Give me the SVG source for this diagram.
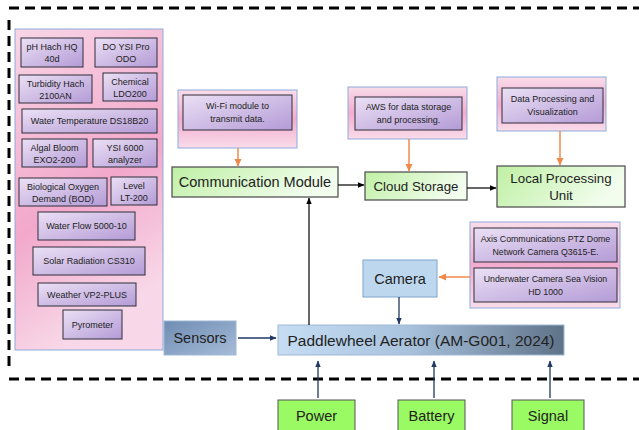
<svg xmlns="http://www.w3.org/2000/svg" width="639" height="430" viewBox="0 0 639 430">
<defs>
<linearGradient id="pink" x1="0" y1="0" x2="0" y2="1">
<stop offset="0" stop-color="#f9dcea"/><stop offset="0.5" stop-color="#f3acce"/><stop offset="1" stop-color="#f9dcea"/>
</linearGradient>
<linearGradient id="pinkPanel" x1="0" y1="0" x2="0.3" y2="1">
<stop offset="0" stop-color="#f8d6e6"/><stop offset="0.6" stop-color="#f2a8cb"/><stop offset="1" stop-color="#f8d8e8"/>
</linearGradient>
<linearGradient id="purple" x1="0" y1="0" x2="1" y2="1">
<stop offset="0" stop-color="#ebe0f5"/><stop offset="1" stop-color="#b49bd6"/>
</linearGradient>
<linearGradient id="green" x1="0" y1="0" x2="1" y2="0.3">
<stop offset="0" stop-color="#bff0a4"/><stop offset="1" stop-color="#f2fdee"/>
</linearGradient>
<linearGradient id="steel" x1="0" y1="0" x2="1" y2="1">
<stop offset="0" stop-color="#6f8cb3"/><stop offset="1" stop-color="#a6bcd8"/>
</linearGradient>
<linearGradient id="paddle" x1="0" y1="0" x2="1" y2="0">
<stop offset="0" stop-color="#c6ddf3"/><stop offset="0.45" stop-color="#a9c3de"/><stop offset="1" stop-color="#5f7388"/>
</linearGradient>
<marker id="ab" markerWidth="7" markerHeight="7" refX="6" refY="3.5" orient="auto" markerUnits="userSpaceOnUse">
<path d="M0,0.8 L6.5,3.5 L0,6.2 Z" fill="#000"/>
</marker>
<marker id="an" markerWidth="7" markerHeight="7" refX="6" refY="3.5" orient="auto" markerUnits="userSpaceOnUse">
<path d="M0,0.8 L6.5,3.5 L0,6.2 Z" fill="#1f3864"/>
</marker>
<marker id="ao" markerWidth="8" markerHeight="8" refX="7" refY="4" orient="auto" markerUnits="userSpaceOnUse">
<path d="M0,0.5 L7.5,4 L0,7.5 Z" fill="#f08a4b"/>
</marker>
</defs>
<style>
text{font-family:"Liberation Sans",Arial,sans-serif;fill:#222;text-anchor:middle}
.s{font-size:9px}
.t{font-size:9px}
.c{font-size:8.8px}
.b{font-size:14.5px}
.m{font-size:13.3px}
.p{font-size:15.5px}
.panel{fill:url(#pinkPanel);stroke:#8eaadb;stroke-width:1}
.outer{fill:url(#pink);stroke:#8eaadb;stroke-width:1}
.pur{fill:url(#purple);stroke:#2e2e3a;stroke-width:1}
.grn{fill:url(#green);stroke:#555;stroke-width:1.3}
.bg{fill:#99fa63;stroke:#555;stroke-width:1}
.blk{stroke:#000;stroke-width:1.2;fill:none}
.nv{stroke:#1f3864;stroke-width:1.3;fill:none}
.or{stroke:#f08a4b;stroke-width:1.5;fill:none}
.dash{stroke:#000;stroke-width:3;fill:none;stroke-dasharray:10 6}
</style>
<g id="boundary">
<path class="dash" d="M9,8 L639,8"/>
<path class="dash" d="M9,20 L9,372"/>
<path class="dash" d="M9,379 L639,379"/>
</g>
<g id="sensor-panel">
<rect class="panel" x="15" y="29" width="148" height="321"/>
<g id="s-ph"><rect class="pur" x="21" y="38" width="62" height="29"/><text class="s" x="52" y="50">pH Hach HQ</text><text class="s" x="52" y="62">40d</text></g>
<g id="s-do"><rect class="pur" x="95" y="38" width="62" height="29"/><text class="s" x="126" y="50">DO YSI Pro</text><text class="s" x="126" y="62">ODO</text></g>
<g id="s-turb"><rect class="pur" x="19" y="75" width="73" height="28"/><text class="s" x="55.5" y="87">Turbidity Hach</text><text class="s" x="55.5" y="99">2100AN</text></g>
<g id="s-chem"><rect class="pur" x="103" y="73" width="54" height="28"/><text class="s" x="130" y="85">Chemical</text><text class="s" x="130" y="97">LDO200</text></g>
<g id="s-temp"><rect class="pur" x="22" y="109" width="135" height="24"/><text class="s" x="89.5" y="124">Water Temperature DS18B20</text></g>
<g id="s-algal"><rect class="pur" x="22" y="139" width="65" height="28"/><text class="s" x="54.5" y="151">Algal Bloom</text><text class="s" x="54.5" y="163">EXO2-200</text></g>
<g id="s-ysi"><rect class="pur" x="93" y="139" width="64" height="28"/><text class="s" x="125" y="151">YSI 6000</text><text class="s" x="125" y="163">analyzer</text></g>
<g id="s-bod"><rect class="pur" x="19" y="178" width="88" height="28"/><text class="s" x="63" y="190">Biological Oxygen</text><text class="s" x="63" y="202">Demand (BOD)</text></g>
<g id="s-level"><rect class="pur" x="111" y="177" width="46" height="28"/><text class="s" x="134" y="189">Level</text><text class="s" x="134" y="201">LT-200</text></g>
<g id="s-flow"><rect class="pur" x="38" y="212" width="97" height="28"/><text class="s" x="86.5" y="229">Water Flow 5000-10</text></g>
<g id="s-solar"><rect class="pur" x="33" y="247" width="112" height="28"/><text class="s" x="89" y="264">Solar Radiation CS310</text></g>
<g id="s-weather"><rect class="pur" x="38" y="283" width="98" height="23"/><text class="s" x="87" y="298">Weather VP2-PLUS</text></g>
<g id="s-pyro"><rect class="pur" x="63" y="310" width="59" height="29"/><text class="s" x="92.5" y="328">Pyrometer</text></g>
</g>
<g id="wifi"><rect class="outer" x="178" y="90" width="119" height="58"/><rect class="pur" x="183" y="95" width="109" height="35"/><text class="t" x="237.5" y="109">Wi-Fi module to</text><text class="t" x="237.5" y="122">transmit data.</text></g>
<g id="aws"><rect class="outer" x="348" y="87" width="119" height="52"/><rect class="pur" x="355" y="97" width="107" height="33"/><text class="t" x="408.5" y="110">AWS for data storage</text><text class="t" x="408.5" y="123">and processing.</text></g>
<g id="dataproc"><rect class="outer" x="497" y="77" width="109" height="54"/><rect class="pur" x="502" y="88" width="101" height="35"/><text class="t" x="552.5" y="102">Data Processing and</text><text class="t" x="552.5" y="115">Visualization</text></g>
<g id="comm"><rect class="grn" x="172" y="167" width="166" height="30"/><text class="b" x="255" y="187">Communication Module</text></g>
<g id="cloud"><rect class="grn" x="365" y="172" width="102" height="28"/><text class="m" x="416" y="191">Cloud Storage</text></g>
<g id="local"><rect class="grn" x="497" y="166" width="128" height="41"/><text class="m" x="561" y="183">Local Processing</text><text class="m" x="561" y="200">Unit</text></g>
<g id="cams"><rect class="outer" x="470" y="222" width="150" height="86"/>
<rect class="pur" x="474" y="228" width="143" height="34"/><text class="c" x="545.5" y="242">Axis Communications PTZ Dome</text><text class="c" x="545.5" y="255">Network Camera Q3615-E.</text>
<rect class="pur" x="474" y="268" width="143" height="34"/><text class="c" x="545.5" y="282">Underwater Camera Sea Vision</text><text class="c" x="545.5" y="295">HD 1000</text></g>
<g id="camera"><rect x="363" y="260" width="74" height="37" fill="#bdd7ee" stroke="#7fa6cf" stroke-width="1"/><text class="b" x="400" y="284">Camera</text></g>
<g id="sensors"><rect x="164" y="321" width="72" height="34" fill="url(#steel)" stroke="#9fb7d6" stroke-width="1"/><text class="b" x="200" y="343" fill="#1a1a1a">Sensors</text></g>
<g id="aerator"><rect x="278" y="325" width="286" height="30" fill="url(#paddle)" stroke="#9fb7d6" stroke-width="1"/><text class="p" x="421" y="345.5">Paddlewheel Aerator (AM-G001, 2024)</text></g>
<g id="power"><rect class="bg" x="278" y="400" width="77" height="32"/><text class="b" x="316.5" y="421">Power</text></g>
<g id="battery"><rect class="bg" x="398" y="400" width="67" height="32"/><text class="b" x="431.5" y="421">Battery</text></g>
<g id="signal"><rect class="bg" x="512" y="400" width="72" height="32"/><text class="b" x="548" y="421">Signal</text></g>
<g id="connectors">
<line class="or" x1="238" y1="148" x2="238" y2="166" marker-end="url(#ao)"/>
<line class="or" x1="409" y1="139" x2="409" y2="171" marker-end="url(#ao)"/>
<line class="or" x1="560" y1="131" x2="560" y2="165" marker-end="url(#ao)"/>
<line class="or" x1="470" y1="277" x2="439" y2="277" marker-end="url(#ao)"/>
<line class="blk" x1="338" y1="185" x2="364" y2="185" marker-end="url(#ab)"/>
<line class="blk" x1="467" y1="188" x2="496" y2="188" marker-end="url(#ab)"/>
<line class="blk" x1="309" y1="325" x2="309" y2="198" marker-end="url(#ab)"/>
<line class="nv" x1="399" y1="297" x2="399" y2="324" marker-end="url(#an)"/>
<line class="nv" x1="238" y1="338" x2="276" y2="338" marker-end="url(#an)"/>
<line class="nv" x1="318" y1="398" x2="318" y2="361" marker-end="url(#an)"/>
<line class="nv" x1="434" y1="398" x2="434" y2="361" marker-end="url(#an)"/>
<line class="nv" x1="550" y1="398" x2="550" y2="361" marker-end="url(#an)"/>
</g>
</svg>
